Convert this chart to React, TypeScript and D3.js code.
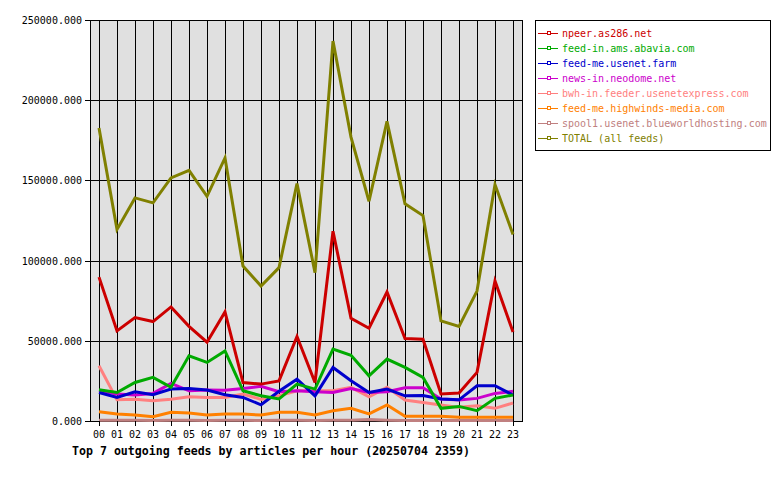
import * as d3 from "d3";

const hours = ["00","01","02","03","04","05","06","07","08","09","10","11","12","13","14","15","16","17","18","19","20","21","22","23"];

const npeer = [89700,56200,64500,62000,71100,59000,49100,68000,24000,23000,25000,52700,24000,118300,64000,57800,80400,51400,51000,16800,17400,30300,87300,55500];
const abavia = [19500,17800,24000,27200,21000,40600,36500,43700,18900,15700,13700,23000,19900,44800,41000,28200,38600,33400,27200,7900,9100,6400,14100,16200];
const usenetFarm = [17800,14700,18200,16400,19900,20300,19300,16400,14700,10100,18500,26100,15700,33400,25100,17800,19900,15700,15900,13700,13200,22000,22000,16200];
const neodome = [18800,16800,16200,17200,23400,18800,19300,19100,20300,21600,18200,18800,18200,17800,20300,17800,18200,20700,20700,13700,13100,14100,17200,18500];
const usenetexpress = [34400,13200,13500,12600,13500,15100,14700,14700,16800,13500,15700,18800,18800,18800,21000,15100,21000,13100,11600,10000,8500,9500,7900,11200];
const highwinds = [5800,4400,3700,2700,5400,5000,3700,4400,4400,3700,5400,5400,3700,6400,7900,4400,10000,2900,2900,2900,2300,2300,2300,2300];
const blueworld = [400,400,400,300,400,400,300,400,400,300,400,400,300,400,500,900,500,300,300,300,300,300,300,300];
const total = [182600,119400,139100,136000,151500,156300,140100,164000,96600,84200,95600,148000,92500,236900,177000,137000,186800,135400,128100,62400,58900,81000,147400,116300];

const feedNames = [
  "npeer.as286.net",
  "feed-in.ams.abavia.com",
  "feed-me.usenet.farm",
  "news-in.neodome.net",
  "bwh-in.feeder.usenetexpress.com",
  "feed-me.highwinds-media.com",
  "spool1.usenet.blueworldhosting.com",
  "TOTAL (all feeds)",
];
const feedValues = [npeer, abavia, usenetFarm, neodome, usenetexpress, highwinds, blueworld, total];
const feedColors = ["#cc0000", "#00aa00", "#0000cc", "#cc00cc", "#ff8080", "#ff8000", "#c08080", "#808000"];

const yTicks = [0, 50000, 100000, 150000, 200000, 250000];
const title = "Top 7 outgoing feeds by articles per hour (20250704 2359)";

export default function App() {
  const left = 90, right = 522, top = 20, bottom = 421;
  const x = d3.scaleBand<string>().domain(hours).range([left, right]);
  const xc = (h: string) => (x(h) as number) + x.bandwidth() / 2;
  const y = d3.scaleLinear().domain([0, 250000]).range([bottom, top]);
  const line = d3.line<number>().x((_, i) => xc(hours[i])).y((d) => y(d));
  const mono = "'DejaVu Sans Mono', monospace";
  const px = (v: number) => Math.round(v) + 0.5;

  // draw order: small feeds first, total on top
  const order = [6, 5, 4, 3, 2, 1, 0, 7];

  return (
    <svg width={780} height={480} style={{ position: "absolute", left: 0, top: 0 }}>
      <rect x={0} y={0} width={780} height={480} fill="#fff" />
      <rect x={left} y={top} width={right - left} height={bottom - top} fill="#e0e0e0" />

      {/* grid */}
      <g shapeRendering="crispEdges">
        {hours.map((h) => (
          <line key={h} x1={px(xc(h))} x2={px(xc(h))} y1={top} y2={bottom} stroke="#000" />
        ))}
        {yTicks.map((t) => (
          <g key={t}>
            <line x1={left} x2={right} y1={px(y(t))} y2={px(y(t))} stroke="#000" />
            <line x1={left - 5} x2={left} y1={px(y(t))} y2={px(y(t))} stroke="#000" />
          </g>
        ))}
        <rect x={left + 0.5} y={top + 0.5} width={right - left} height={bottom - top} fill="none" stroke="#000" />
      </g>
      {yTicks.map((t) => (
        <text key={t} x={82} y={y(t) + 4} textAnchor="end" fontFamily={mono} fontSize={10} fill="#000">
          {t.toFixed(3)}
        </text>
      ))}

      {/* series */}
      {order.map((k) => (
        <path key={k} d={line(feedValues[k]) ?? ""} fill="none" stroke={feedColors[k]} strokeWidth={3} strokeLinejoin="miter" />
      ))}

      {/* x axis */}
      {hours.map((h) => (
        <g key={h}>
          <line x1={px(xc(h))} x2={px(xc(h))} y1={bottom} y2={bottom + 5} stroke="#000" shapeRendering="crispEdges" />
          <text x={xc(h)} y={bottom + 17} textAnchor="middle" fontFamily={mono} fontSize={10} fill="#000">
            {h}
          </text>
        </g>
      ))}
      <text x={72} y={455} fontFamily={mono} fontSize={11.6} fontWeight="bold" fill="#000">
        {title}
      </text>

      {/* legend */}
      <rect x={535.5} y={20.5} width={235} height={130} fill="#fff" stroke="#000" shapeRendering="crispEdges" />
      {feedNames.map((n, i) => {
        const ly = 33 + i * 15;
        return (
          <g key={n}>
            <line x1={538} x2={558} y1={ly + 0.5} y2={ly + 0.5} stroke={feedColors[i]} shapeRendering="crispEdges" />
            <rect x={547.5} y={ly - 1.5} width={3} height={3} fill="#fff" stroke={feedColors[i]} strokeWidth={1} shapeRendering="crispEdges" />
            <text x={562} y={ly + 4} fontFamily={mono} fontSize={10} fill={feedColors[i]}>
              {n}
            </text>
          </g>
        );
      })}
    </svg>
  );
}
